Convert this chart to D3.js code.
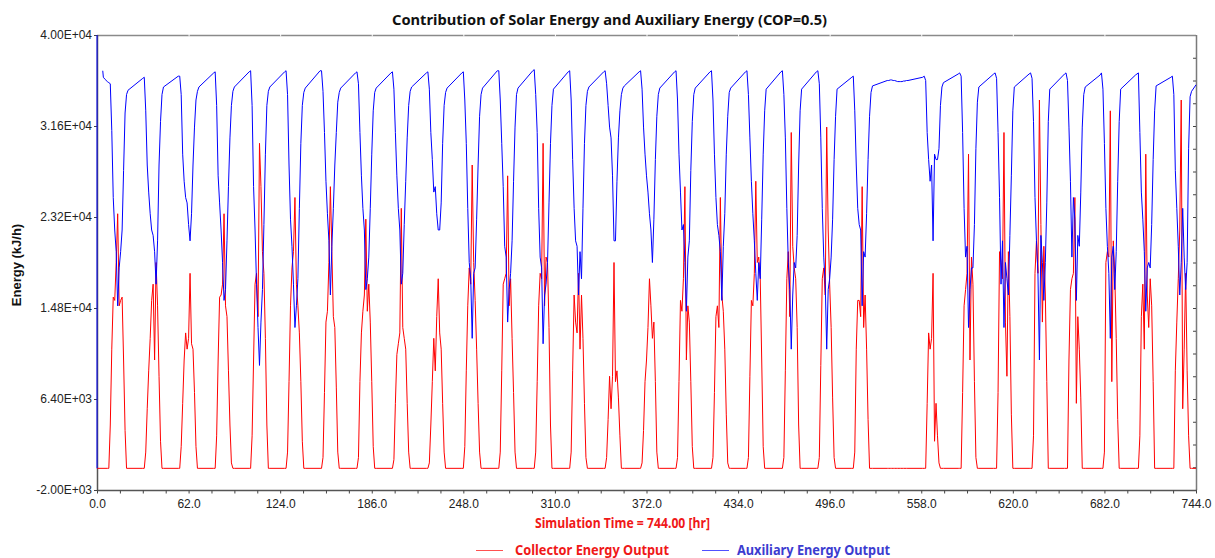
<!DOCTYPE html>
<html>

<head>
    <meta charset="utf-8">
    <style>
        body {
            margin: 0;
            background: #fff;
        }

        svg {
            display: block;
            font-family: 'Liberation Sans', Arial, sans-serif;
        }

        .tick text {
            font-family: 'Liberation Sans', Arial, sans-serif;
            font-size: 12px;
            fill: #222;
        }

        .domain {
            display: none;
        }

        .minor .tick line {
            stroke: #444;
        }

        .calibri {
            font-family: 'Noto Sans', sans-serif;
            font-weight: 700;
        }
    </style>
</head>

<body>
    <svg width="1215" height="558"></svg>

    <script src="https://d3js.org/d3.v7.min.js"></script>
    <script>
        let HOURS = [7, 8, 9, 10, 11, 12, 13, 14, 15, 16, 17, 18, 19, 20, 21];

        // Collector Energy Output, kJ/h, one row per day (31 days), columns = HOURS
        let collector = [
            [0, 0, 4000, 11000, 15800, 15500, 19000, 23500, 15000, 15500, 15800, 10000, 3500, 0, 0],
            [0, 0, 1500, 5500, 9000, 12000, 15500, 17000, 10000, 19000, 15000, 8500, 2500, 0, 0],
            [0, 0, 2000, 6000, 10000, 12500, 11000, 12000, 18000, 11500, 11000, 7000, 2000, 0, 0],
            [0, 0, 3000, 10000, 15800, 16000, 17000, 23500, 15000, 14000, 9000, 4000, 500, 0, 0],
            [0, 0, 3000, 10000, 17000, 18000, 14000, 30000, 26000, 20000, 18000, 12000, 4000, 0, 0],
            [0, 0, 1500, 8000, 15000, 18500, 20000, 25000, 17000, 15000, 12500, 8000, 2500, 0, 0],
            [0, 0, 1000, 7000, 13500, 14500, 19000, 26000, 20000, 14000, 13000, 7500, 1500, 0, 0],
            [0, 0, 1000, 8000, 12500, 14500, 16000, 23000, 14500, 17000, 13500, 8000, 2000, 0, 0],
            [0, 0, 800, 6000, 10500, 11500, 12500, 24000, 13000, 12000, 11000, 6000, 1500, 0, 0],
            [0, 0, 500, 4000, 8000, 12000, 9000, 14000, 17500, 12500, 11000, 6000, 1500, 0, 0],
            [0, 0, 2000, 9000, 15000, 18500, 17000, 28000, 19000, 15500, 11000, 6000, 1500, 0, 0],
            [0, 0, 1500, 9000, 17000, 17500, 18000, 27000, 15000, 17500, 12000, 7000, 1500, 0, 0],
            [0, 0, 1500, 8000, 15000, 18000, 17500, 30000, 15000, 19500, 19000, 13000, 4000, 0, 0],
            [0, 0, 1500, 9000, 16000, 13500, 12500, 18000, 11000, 16000, 12000, 6000, 1000, 0, 0],
            [0, 0, 1000, 4500, 8500, 5500, 8500, 19000, 8000, 9000, 6500, 3000, 0, 0, 0],
            [0, 0, 500, 3500, 8000, 10000, 13000, 17500, 15000, 12000, 13500, 8000, 1500, 0, 0],
            [0, 0, 1000, 8000, 15500, 14500, 17500, 26000, 10000, 15000, 13500, 8000, 2000, 0, 0],
            [0, 0, 1000, 7000, 14000, 15000, 13000, 25000, 16000, 14500, 11000, 5000, 500, 0, 0],
            [0, 0, 1000, 8500, 15500, 15000, 18000, 26500, 19000, 19500, 17500, 10000, 2000, 0, 0],
            [0, 0, 1000, 9000, 17500, 20000, 14000, 31000, 20500, 18500, 17500, 13000, 4000, 0, 0],
            [0, 0, 1000, 9500, 17500, 18500, 16000, 31500, 22000, 17000, 13000, 6500, 1000, 0, 0],
            [0, 0, 1500, 11000, 15500, 15500, 14000, 26000, 13000, 16000, 11000, 4500, 0, 0, 0],
            [0, 0, 0, 0, 0, 0, 0, 0, 0, 0, 0, 0, 0, 0, 0],
            [0, 0, 0, 6000, 12500, 11000, 12000, 18000, 2500, 6000, 3000, 500, 0, 0, 0],
            [0, 0, 0, 7000, 15000, 16500, 18000, 29000, 10000, 19500, 17000, 8000, 1000, 0, 0],
            [0, 0, 0, 7000, 20000, 19000, 17500, 31000, 13500, 8500, 20000, 14000, 5000, 0, 0],
            [0, 0, 0, 3000, 18000, 21000, 18000, 34000, 22500, 13500, 20500, 16000, 8000, 0, 0],
            [0, 0, 0, 10000, 16500, 17500, 18000, 25000, 6000, 14000, 11000, 6500, 0, 0, 0],
            [0, 0, 0, 1500, 19000, 20000, 19500, 33000, 8000, 21000, 18000, 12000, 4500, 0, 0],
            [0, 0, 0, 3000, 14000, 17000, 11000, 29000, 16000, 13000, 17500, 15000, 8000, 0, 0],
            [0, 0, 0, 9000, 13500, 17500, 22000, 34000, 5500, 11000, 18000, 9000, 3000, 0, 0]
        ]

        // Auxiliary Energy Output, kJ/h, same layout
        let auxiliary = [
            [35700, 35600, 35500, 31200, 25000, 22000, 20000, 15000, 18500, 20000, 22000, 27500, 32800, 34500, 34900],
            [36000, 36100, 33000, 28000, 25500, 23500, 22000, 21500, 20000, 17000, 21000, 28000, 32000, 34500, 35200],
            [36200, 36200, 34500, 29000, 26500, 25000, 24500, 22500, 21000, 23500, 28000, 31500, 34000, 34800, 35200],
            [36500, 36600, 33500, 27000, 24500, 22000, 19000, 15500, 16500, 21000, 26000, 30500, 33500, 34800, 35200],
            [36600, 36700, 33500, 26000, 22000, 17000, 13000, 9500, 13500, 16500, 22500, 29000, 33500, 34800, 35200],
            [36600, 36700, 34500, 28000, 23000, 20500, 17000, 13000, 15000, 17500, 24000, 30000, 33500, 34700, 35100],
            [36700, 36700, 34800, 31000, 26500, 23500, 21000, 16000, 20500, 24000, 28000, 31000, 33800, 34700, 35100],
            [36500, 36600, 35500, 31000, 27000, 24000, 22000, 16500, 17500, 19500, 24000, 29000, 33000, 34700, 35100],
            [36500, 36600, 35000, 31000, 27000, 24000, 22000, 17000, 18000, 22500, 26500, 30500, 33500, 34800, 35200],
            [36500, 36600, 35000, 31000, 28500, 25500, 26000, 23500, 22000, 22000, 24500, 30000, 33500, 34700, 35100],
            [36500, 36600, 34000, 30000, 24000, 19000, 17500, 12000, 18000, 18500, 23000, 28000, 32500, 34500, 35100],
            [36700, 36700, 34000, 30000, 26000, 20500, 19500, 13500, 16500, 18000, 21000, 26500, 31500, 34500, 35100],
            [36700, 36800, 34500, 31000, 24000, 19500, 18500, 11500, 16000, 17000, 19000, 24500, 30000, 33500, 35000],
            [36600, 36700, 34000, 28500, 24000, 21000, 20500, 16000, 20000, 17500, 24000, 30000, 33500, 34800, 35200],
            [36600, 36700, 35500, 33500, 31500, 30500, 27000, 21000, 21000, 26500, 30500, 33000, 34500, 35100, 35300],
            [36600, 36700, 35000, 31500, 29000, 27000, 25500, 23500, 22000, 19000, 23000, 28500, 32500, 34500, 35100],
            [36600, 36700, 34000, 29000, 25500, 22000, 22500, 19000, 14500, 19500, 21000, 27500, 32000, 34500, 35100],
            [36600, 36700, 34000, 29000, 25000, 22500, 21500, 20000, 15500, 20500, 23500, 29000, 32500, 34700, 35100],
            [36600, 36700, 34500, 30500, 26500, 23500, 21000, 18000, 15500, 19000, 17500, 23000, 29000, 33000, 35000],
            [36600, 36700, 34500, 30500, 24000, 19000, 16500, 11000, 16000, 19000, 18500, 21500, 28000, 33000, 35000],
            [36600, 36700, 35500, 30500, 24000, 19500, 17000, 11000, 16500, 17500, 19500, 23000, 28500, 32500, 35000],
            [36100, 36200, 33000, 28000, 24000, 22500, 22000, 15000, 20000, 19500, 23500, 28500, 32500, 34700, 35300],
            [35800, 35800, 35850, 35850, 35800, 35800, 35750, 35700, 35700, 35700, 35700, 35750, 35750, 35800, 35800],
            [36100, 36200, 35800, 31000, 28500, 26500, 28000, 21000, 29000, 28500, 28500, 29500, 33500, 35200, 35600],
            [36400, 36500, 36200, 31000, 24000, 19500, 20500, 13000, 16500, 18500, 18500, 22500, 29500, 33800, 35200],
            [36400, 36500, 36000, 31000, 25000, 17000, 21000, 13000, 19000, 17500, 16000, 21500, 27000, 33000, 35200],
            [36400, 36500, 36000, 32000, 25000, 21000, 18000, 10000, 21500, 19000, 15500, 19000, 24500, 32000, 35000],
            [36400, 36500, 35800, 31500, 26500, 19500, 25000, 23000, 15500, 21500, 20500, 25500, 31500, 34500, 35200],
            [36300, 36500, 35000, 30000, 24000, 20500, 18000, 12000, 19500, 20500, 16500, 20000, 26500, 32000, 35000],
            [36300, 36400, 36500, 31000, 25500, 23000, 20000, 14500, 18500, 19000, 18500, 22500, 28500, 33000, 35300],
            [36100, 36200, 34500, 27500, 24000, 20500, 16000, 19000, 24000, 19500, 16500, 19000, 29500, 34300, 34800]
        ]

        // start-up spike of the auxiliary heater (null = break in the line) and run ends
        let auxStart = [[0, 0], [0, 42000], null, [3.9, 36700], [4.3, 36100], [5.5, 35900]];
        let auxEnd = [[744, 35400]];
        let collectorStart = [[0, 0]];
        let collectorEnd = [[744, 0]];

        let xTicks = d3.range(0, 745, 62);
        let xMinor = d3.range(0, 745, 15.5);
        let yTicks = [-2000, 6400, 14800, 23200, 31600, 40000];
        let yMinor = d3.range(-2000, 40001, 2100);

        let width = 1215;
        let height = 558;
        let margin = { top: 35, right: 19, bottom: 68, left: 97 };

        let svg = d3.select("svg");

        let x = d3.scaleLinear()
            .domain([0, 744])
            .range([margin.left, width - margin.right])

        let y = d3.scaleLinear()
            .domain([-2000, 40000])
            .range([height - margin.bottom, margin.top])

        function sci(v) {
            let [m, e] = v.toExponential(2).split("e");
            let n = +e;
            return m + "E" + (n < 0 ? "-" : "+") + String(Math.abs(n)).padStart(2, "0");
        }

        function build(start, rows, end) {
            let pts = start.slice();
            rows.forEach((row, d) => {
                row.forEach((v, i) => pts.push([24 * d + HOURS[i], v]));
            });
            return pts.concat(end);
        }

        let collectorSeries = build(collectorStart, collector, collectorEnd);
        let auxiliarySeries = build(auxStart, auxiliary, auxEnd);

        let x0 = margin.left, x1 = width - margin.right;
        let y0 = height - margin.bottom, y1 = margin.top;

        // frame
        svg.append("line").attr("x1", x0).attr("x2", x1).attr("y1", y1 + 0.5).attr("y2", y1 + 0.5)
            .attr("stroke", "#8a8a8a").attr("stroke-width", 1.5)
        svg.append("line").attr("x1", x1 + 0.5).attr("x2", x1 + 0.5).attr("y1", y1).attr("y2", y0)
            .attr("stroke", "#7a7a7a").attr("stroke-width", 1.5)
        svg.append("line").attr("x1", x0 + 0.5).attr("x2", x0 + 0.5).attr("y1", y1).attr("y2", y0 + 1)
            .attr("stroke", "#555").attr("stroke-width", 1.5)
        svg.append("line").attr("x1", x0).attr("x2", x1 + 1).attr("y1", y0 + 0.5).attr("y2", y0 + 0.5)
            .attr("stroke", "#555").attr("stroke-width", 1.5)

        // white notches on the top line
        svg.append("g")
            .attr("class", "top-notch")
            .attr("transform", `translate(0,${y1 + 1.5})`)
            .call(d3.axisTop(x).tickValues(xTicks.slice(1, -1)).tickSize(3).tickFormat(""))
            .call(g => g.selectAll(".tick line").attr("stroke", "#fff"))

        // minor ticks
        svg.append("g")
            .attr("class", "minor")
            .attr("transform", `translate(0,${y0 + 0.5})`)
            .call(d3.axisBottom(x).tickValues(xMinor).tickSize(3).tickFormat(""))

        svg.append("g")
            .attr("class", "minor")
            .attr("transform", `translate(${x1},0)`)
            .call(d3.axisLeft(y).tickValues(yMinor.slice(1, -1)).tickSize(3).tickFormat(""))

        // labelled axes
        svg.append("g")
            .attr("class", "x axis")
            .attr("transform", `translate(0,${y0})`)
            .call(d3.axisBottom(x).tickValues(xTicks).tickSize(0).tickPadding(9).tickFormat(d3.format(".1f")))

        svg.append("g")
            .attr("class", "y axis minor")
            .attr("transform", `translate(${x0},0)`)
            .call(d3.axisLeft(y).tickValues(yTicks).tickSize(3).tickPadding(2).tickFormat(sci))

        // plot clip
        svg.append("clipPath").attr("id", "plot")
            .append("rect").attr("x", x0 - 1).attr("y", y1).attr("width", x1 - x0 + 2).attr("height", y0 - y1)

        let line = d3.line()
            .defined(d => d !== null)
            .x(d => x(d[0]))
            .y(d => y(d[1]))

        let plot = svg.append("g").attr("clip-path", "url(#plot)")

        plot.append("path")
            .datum(collectorSeries)
            .attr("fill", "none")
            .attr("stroke", "#ff0000")
            .attr("stroke-width", 1)
            .attr("d", line)

        plot.append("path")
            .datum(auxiliarySeries)
            .attr("fill", "none")
            .attr("stroke", "#0000ff")
            .attr("stroke-width", 1)
            .attr("d", line)

        // texts
        svg.append("text")
            .attr("class", "calibri")
            .attr("x", 392)
            .attr("y", 25)
            .attr("font-size", 14.5)
            .attr("textLength", 435)
            .attr("lengthAdjust", "spacingAndGlyphs")
            .attr("fill", "#111")
            .text("Contribution of Solar Energy and Auxiliary Energy (COP=0.5)")

        svg.append("text")
            .attr("transform", "translate(20.5,265) rotate(-90)")
            .attr("text-anchor", "middle")
            .attr("font-size", 13)
            .attr("font-weight", 700)
            .attr("fill", "#111")
            .text("Energy (kJ/h)")

        svg.append("text")
            .attr("class", "calibri")
            .attr("x", 535)
            .attr("y", 528)
            .attr("font-size", 14.5)
            .attr("textLength", 175)
            .attr("lengthAdjust", "spacingAndGlyphs")
            .attr("fill", "#f01818")
            .text("Simulation Time = 744.00 [hr]")

        // legend
        let legendItems = [
            { label: "Collector Energy Output", line: "#ff5050", text: "#f01818", lx: 476, tx: 515, tw: 154 },
            { label: "Auxiliary Energy Output", line: "#5050ff", text: "#3c3cd0", lx: 702, tx: 737, tw: 153 }
        ]

        let legend = svg.append("g").selectAll("g")
            .data(legendItems)
            .join("g")

        legend.append("line")
            .attr("x1", d => d.lx)
            .attr("x2", d => d.lx + 27)
            .attr("y1", 550.5)
            .attr("y2", 550.5)
            .attr("stroke", d => d.line)

        legend.append("text")
            .attr("class", "calibri")
            .attr("x", d => d.tx)
            .attr("y", 554.5)
            .attr("font-size", 14.5)
            .attr("textLength", d => d.tw)
            .attr("lengthAdjust", "spacingAndGlyphs")
            .attr("fill", d => d.text)
            .text(d => d.label)
    </script>
</body>

</html>
